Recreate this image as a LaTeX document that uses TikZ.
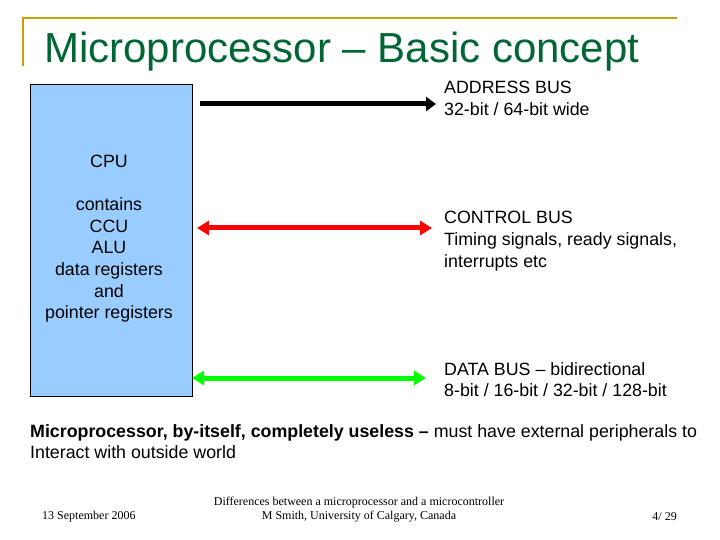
\documentclass[tikz,border=0pt]{standalone}
\usepackage{fontspec}
\setmainfont{Liberation Sans}
\newfontfamily\serifft{Liberation Serif}
\usetikzlibrary{arrows.meta}
\definecolor{gold}{RGB}{200,160,0}
\definecolor{titlegreen}{RGB}{0,102,51}
\definecolor{cpublue}{RGB}{153,204,255}
\tikzset{
  lbl/.style={anchor=north west,align=left,font=\fontsize{17.8}{21.8}\selectfont,inner sep=0pt},
  bus/.style={line width=5pt},
  foot/.style={font=\serifft\fontsize{12}{14}\selectfont,inner sep=0pt}
}
\begin{document}
\begin{tikzpicture}[x=1pt,y=-1pt]
\useasboundingbox (0,0) rectangle (720,540);
\draw[gold,line width=2.5pt] (22,18) -- (677,18);
\draw[gold,line width=2.5pt] (23,18) -- (23,66);
\node[anchor=west,text=titlegreen,font=\fontsize{42}{44}\selectfont,inner sep=0pt] (title) at (44,52) {Microprocessor – Basic concept};
\node[draw=black,fill=cpublue,minimum width=162pt,minimum height=312pt,anchor=north west,inner sep=0pt] (cpu) at (30,84) {};
\node[align=center,font=\fontsize{17.8}{21.7}\selectfont,inner sep=0pt,anchor=north] (cputxt) at (109,155) {CPU\\[21pt]contains\\CCU\\ALU\\data registers\\and\\pointer registers};
\coordinate (a1) at (200,104); \coordinate (a2) at (436,104);
\coordinate (c1) at (197,228); \coordinate (c2) at (432,228);
\coordinate (d1) at (192,378); \coordinate (d2) at (426,378);
\draw[bus,black,-{Triangle[length=10pt,width=14pt]}] (a1) -- (a2);
\draw[bus,red,{Triangle[length=12pt,width=14pt]}-{Triangle[length=12pt,width=14pt]}] (c1) -- (c2);
\draw[bus,green,{Triangle[length=12pt,width=14pt]}-{Triangle[length=12pt,width=14pt]}] (d1) -- (d2);
\node[lbl] (addr) at (444,81) {ADDRESS BUS\\32-bit / 64-bit wide};
\node[lbl] (ctrl) at (444,211) {CONTROL BUS\\Timing signals, ready signals,\\interrupts etc};
\node[lbl] (data) at (444,362) {DATA BUS – bidirectional\\8-bit / 16-bit / 32-bit / 128-bit};
\node[lbl] (note) at (30,424) {\textbf{Microprocessor, by-itself, completely useless –} must have external peripherals to\\Interact with outside world};
\node[foot,anchor=west] (date) at (42,517) {13 September 2006};
\node[foot,align=center] (mid) at (359,510) {Differences between a microprocessor and a microcontroller\\M Smith, University of Calgary, Canada};
\node[foot,anchor=east] (pg) at (677,517) {4/ 29};
\end{tikzpicture}
\end{document}
